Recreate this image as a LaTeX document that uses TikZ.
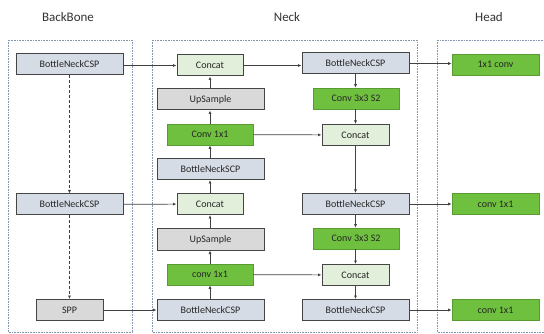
\documentclass[tikz,border=0pt]{standalone}
\usepackage{fontspec}
\setmainfont{Carlito}
\usetikzlibrary{arrows.meta}
\definecolor{bnfill}{HTML}{D6DCE5}
\definecolor{grfill}{HTML}{70C040}
\definecolor{lgfill}{HTML}{E2EFDA}
\definecolor{gyfill}{HTML}{D9D9D9}
\definecolor{edge}{HTML}{454545}
\definecolor{panel}{HTML}{8496B0}
\begin{document}
\begin{tikzpicture}[x=1pt,y=-1pt,
  box/.style={draw=edge,line width=1pt,minimum height=21pt,inner sep=0pt,font=\fontsize{10}{11}\selectfont,text=black!85},
  bn/.style={box,fill=bnfill,minimum width=107pt},
  gr/.style={box,fill=grfill,draw=grfill!80!black,line width=0.6pt,minimum width=86pt},
  cc/.style={box,fill=lgfill,minimum width=66pt},
  gy/.style={box,fill=gyfill,minimum width=107pt},
  pnl/.style={draw=panel,densely dotted,line width=0.6pt},
  ttl/.style={font=\fontsize{13}{15}\selectfont,text=black!80},
  arr/.style={draw=black!75,line width=0.7pt,-{Latex[length=3.5pt,width=3pt]}},
  darr/.style={arr,dashed,dash pattern=on 3pt off 2pt}]
\useasboundingbox (0,0) rectangle (544,334);
% panels
\draw[pnl] (8,40) rectangle (132,332);
\draw[pnl] (152,40) rectangle (417,332);
\draw[pnl] (437,40) rectangle (550,332);
% titles
\node[ttl] (tb) at (68,17) {BackBone};
\node[ttl] (tn) at (287,17) {Neck};
\node[ttl] (th) at (489,17) {Head};
% backbone
\node[bn] (b1) at (69.5,64.5) {BottleNeckCSP};
\node[bn] (b2) at (69.5,204.5) {BottleNeckCSP};
\node[gy,minimum width=67pt] (spp) at (69.5,310) {SPP};
% neck left column
\node[cc] (c1) at (210,65.5) {Concat};
\node[gy] (u1) at (210.5,99.5) {UpSample};
\node[gr] (v1) at (210,134.5) {Conv 1x1};
\node[bn] (n1) at (210.5,169) {BottleNeckSCP};
\node[cc] (c2) at (210,204) {Concat};
\node[gy] (u2) at (210.5,239.5) {UpSample};
\node[gr] (v2) at (210,274.5) {conv 1x1};
\node[bn] (n2) at (210.5,310) {BottleNeckCSP};
% neck right column
\node[bn] (r1) at (355.5,63.5) {BottleNeckCSP};
\node[gr] (s1) at (356,98.5) {Conv 3x3 S2};
\node[cc,minimum width=67pt] (k1) at (355.5,135) {Concat};
\node[bn] (r2) at (355.5,204) {BottleNeckCSP};
\node[gr] (s2) at (356,238.5) {Conv 3x3 S2};
\node[cc,minimum width=67pt] (k2) at (355.5,275) {Concat};
\node[bn] (r3) at (355.5,310) {BottleNeckCSP};
% head
\node[gr,minimum width=87pt] (h1) at (495.5,64.5) {1x1 conv};
\node[gr,minimum width=87pt] (h2) at (495.5,204) {conv 1x1};
\node[gr,minimum width=87pt] (h3) at (495.5,310) {conv 1x1};
% backbone dashed
\draw[darr] (b1) -- (b2);
\draw[darr] (b2) -- (spp);
% horizontal
\draw[arr] (b1.east |- c1) -- (c1);
\draw[arr] (c1) -- (r1.west |- c1);
\draw[arr] (r1) -- (h1.west |- r1);
\draw[arr] (b2) -- (c2);
\draw[arr] (spp) -- (n2);
\draw[arr] (v1) -- (k1);
\draw[arr] (v2) -- (k2);
\draw[arr] (r2) -- (h2);
\draw[arr] (r3) -- (h3);
% vertical left
\draw[arr] (u1.north -| c1) -- (c1);
\draw[arr] (v1) -- (v1 |- u1.south);
\draw[arr] (n1.north -| v1) -- (v1);
\draw[arr] (c2) -- (c2 |- n1.south);
\draw[arr] (u2.north -| c2) -- (c2);
\draw[arr] (v2) -- (v2 |- u2.south);
\draw[arr] (n2.north -| v2) -- (v2);
% vertical right
\draw[arr] (r1) -- (r1 |- s1.north);
\draw[arr] (s1.south -| k1) -- (k1);
\draw[arr] (k1) -- (r2);
\draw[arr] (r2) -- (r2 |- s2.north);
\draw[arr] (s2.south -| k2) -- (k2);
\draw[arr] (k2) -- (r3);
\end{tikzpicture}
\end{document}
